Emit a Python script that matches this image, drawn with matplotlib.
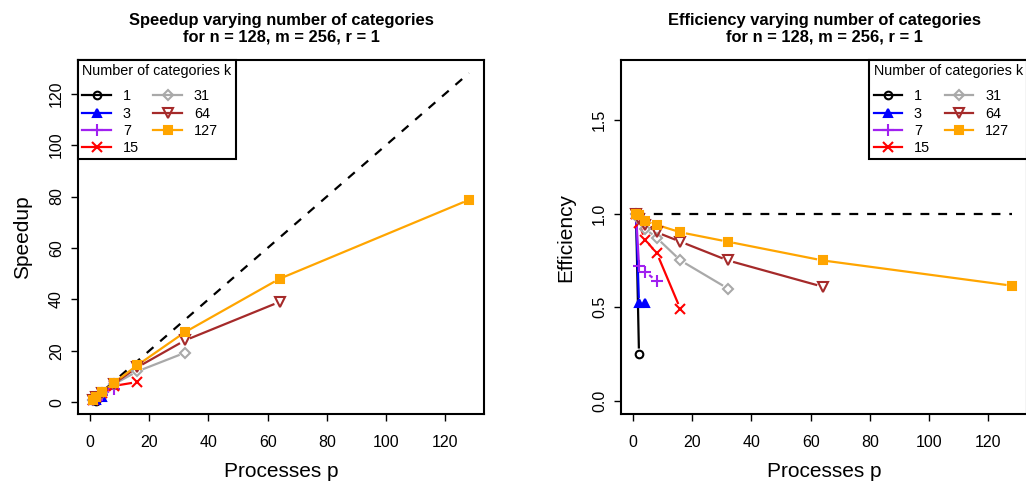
import numpy as np
import matplotlib
matplotlib.use("Agg")
import matplotlib.pyplot as plt
from matplotlib.lines import Line2D

plt.rcParams['font.family'] = ['Liberation Sans', 'DejaVu Sans']

# processes p and number of categories k
procs = [1, 2, 4, 8, 16, 32, 64, 128]
k_values = [1, 3, 7, 15, 31, 64, 127]

# speedup per k (one value per p, series stop at different p)
speedup_k1 = [1.0, 0.5]
speedup_k3 = [1.0, 1.04, 2.08]
speedup_k7 = [1.0, 1.44, 2.76, 5.12]
speedup_k15 = [1.0, 1.9, 3.44, 6.32, 7.84]
speedup_k31 = [1.0, 1.94, 3.68, 6.96, 12.0, 19.2]
speedup_k64 = [1.0, 1.94, 3.76, 7.2, 13.6, 24.0, 39.0]
speedup_k127 = [1.0, 1.98, 3.84, 7.52, 14.4, 27.2, 48.0, 78.7]

# efficiency per k
eff_k1 = [1.0, 0.25]
eff_k3 = [1.0, 0.52, 0.52]
eff_k7 = [1.0, 0.72, 0.69, 0.64]
eff_k15 = [1.0, 0.95, 0.86, 0.79, 0.49]
eff_k31 = [1.0, 0.97, 0.92, 0.87, 0.75, 0.60]
eff_k64 = [1.0, 0.97, 0.94, 0.90, 0.85, 0.75, 0.61]
eff_k127 = [1.0, 0.99, 0.96, 0.94, 0.90, 0.85, 0.75, 0.615]

speedups = [speedup_k1, speedup_k3, speedup_k7, speedup_k15,
            speedup_k31, speedup_k64, speedup_k127]
effs = [eff_k1, eff_k3, eff_k7, eff_k15, eff_k31, eff_k64, eff_k127]

colors = ['black', '#0000FF', '#A020F0', '#FF0000', '#A9A9A9', '#A52A2A', '#FFA500']
# (marker, size, filled)
markers = [('o', 5.5, False), ('^', 5.5, True), ('+', 8, True), ('x', 6.5, True),
           ('D', 5, False), ('v', 6.5, False), ('s', 6, True)]

LW = 1.6
GAP = 5.5  # px gap between line and point, like R type="b"


def draw_b(ax, x, y, color, mk):
    # segments shortened at both ends, then the points
    pts = ax.transData.transform(np.column_stack([x, y]))
    inv = ax.transData.inverted()
    for p0, p1 in zip(pts[:-1], pts[1:]):
        d = np.hypot(*(p1 - p0))
        if d <= 2 * GAP:
            continue
        u = (p1 - p0) / d
        a = inv.transform(p0 + u * GAP)
        b = inv.transform(p1 - u * GAP)
        ax.plot([a[0], b[0]], [a[1], b[1]], color=color, lw=LW,
                solid_capstyle='butt', zorder=2)
    m, ms, filled = mk
    ax.plot(x, y, linestyle='none', marker=m, markersize=ms,
            markerfacecolor=color if filled else 'none',
            markeredgecolor=color, markeredgewidth=1.5, zorder=3)


def style_axes(ax):
    for s in ax.spines.values():
        s.set_linewidth(1.5)
    ax.tick_params(axis='both', direction='out', length=5, width=1,
                   labelsize=11.5)
    ax.tick_params(axis='x', pad=10)
    ax.tick_params(axis='y', pad=5, labelrotation=90)
    for lbl in ax.get_yticklabels():
        lbl.set_va('center')


def add_legend(ax, loc):
    handles = []
    for c, mk in zip(colors, markers):
        m, ms, filled = mk
        handles.append(Line2D([], [], color=c, lw=LW, marker=m, markersize=ms,
                              markerfacecolor=c if filled else 'none',
                              markeredgecolor=c, markeredgewidth=1.5))
    leg = ax.legend(handles, [str(k) for k in k_values], loc=loc, ncol=2,
                    title='Number of categories k', fontsize=10.4,
                    title_fontsize=10.4, frameon=True, fancybox=False,
                    borderaxespad=0, borderpad=0.3, handlelength=2.0,
                    handletextpad=0.8, columnspacing=1.0, labelspacing=0.22,
                    alignment='left')
    # more room between the title and the first row
    leg._legend_box.sep = 8
    fr = leg.get_frame()
    fr.set_edgecolor('black')
    fr.set_linewidth(1.5)
    fr.set_alpha(None)
    fr.set_facecolor('white')
    leg.set_zorder(5)


fig = plt.figure(figsize=(10.26, 4.87), dpi=100)
ax1 = fig.add_axes([78 / 1026, 73 / 487, 406 / 1026, 354 / 487])
ax2 = fig.add_axes([621 / 1026, 73 / 487, 406 / 1026, 354 / 487])

title_kw = dict(fontsize=11.9, fontweight='bold', pad=13, linespacing=1.2)

# Speedup panel
ax1.set_xlim(-4.08, 133.08)
ax1.set_ylim(-4.6, 133.1)
ax1.set_xticks([0, 20, 40, 60, 80, 100, 120])
ax1.set_yticks([0, 20, 40, 60, 80, 100, 120])
ax1.plot([procs[0], procs[-1]], [procs[0], procs[-1]], color='black', lw=LW,
         dashes=(4, 4), zorder=1)
for p_vals, c, mk in zip(speedups, colors, markers):
    draw_b(ax1, procs[:len(p_vals)], p_vals, c, mk)
ax1.set_title('Speedup varying number of categories\nfor n = 128, m = 256, r = 1', **title_kw)
ax1.set_xlabel('Processes p', fontsize=15, labelpad=9)
ax1.set_ylabel('Speedup', fontsize=15, labelpad=12)
style_axes(ax1)
add_legend(ax1, 'upper left')

# Efficiency panel
ax2.set_xlim(-4.08, 133.08)
ax2.set_ylim(-0.07, 1.82)
ax2.set_xticks([0, 20, 40, 60, 80, 100, 120])
ax2.set_yticks([0.0, 0.5, 1.0, 1.5])
ax2.set_yticklabels(['0.0', '0.5', '1.0', '1.5'])
ax2.plot([procs[0], procs[-1]], [1, 1], color='black', lw=LW,
         dashes=(4, 4), zorder=1)
for e_vals, c, mk in zip(effs, colors, markers):
    draw_b(ax2, procs[:len(e_vals)], e_vals, c, mk)
ax2.set_title('Efficiency varying number of categories\nfor n = 128, m = 256, r = 1', **title_kw)
ax2.set_xlabel('Processes p', fontsize=15, labelpad=9)
ax2.set_ylabel('Efficiency', fontsize=15, labelpad=12)
style_axes(ax2)
add_legend(ax2, 'upper right')

fig.savefig('out.png', dpi=100)
